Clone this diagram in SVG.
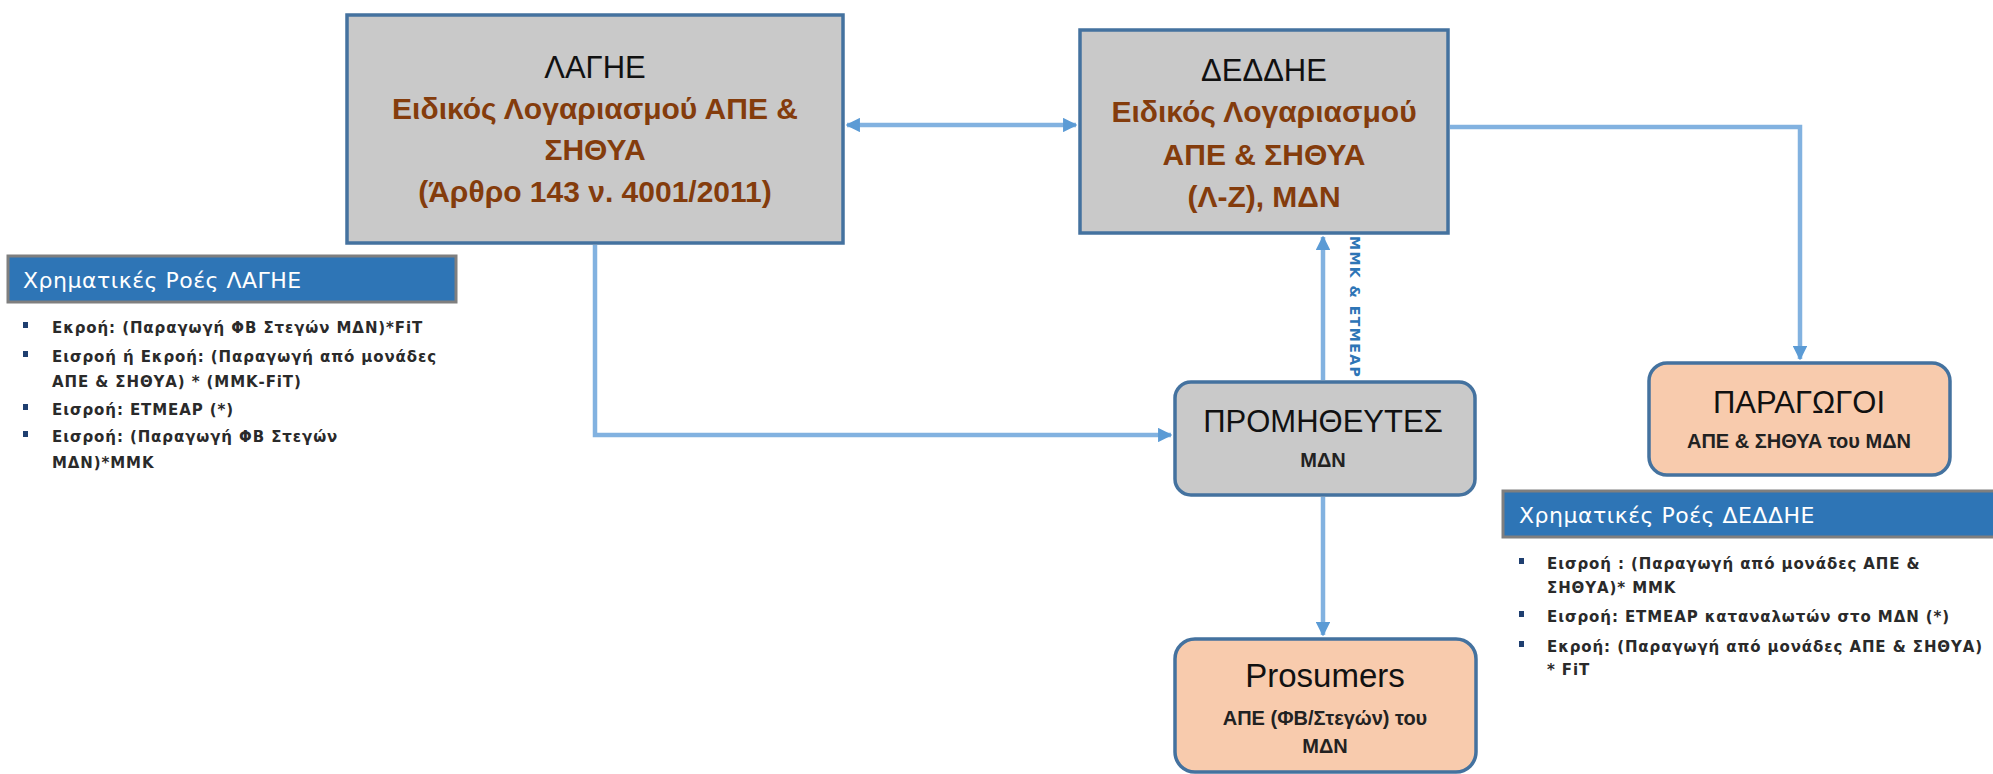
<svg xmlns="http://www.w3.org/2000/svg" width="1993" height="774" viewBox="0 0 1993 774">
<defs>
<marker id="ah" viewBox="0 0 10 10" refX="9" refY="5" markerWidth="3.2" markerHeight="3.2" orient="auto-start-reverse" markerUnits="strokeWidth">
<path d="M0,0 L10,5 L0,10 Z" fill="#5b9bd5"/>
</marker>
<style>
.box{fill:#c9c9c9;stroke:#44729f;stroke-width:3.5}
.peach{fill:#f8cbad;stroke:#44729f;stroke-width:3.5}
.conn{fill:none;stroke:#82b2e0;stroke-width:4.5}
.t{font-family:"Liberation Sans",Arial,sans-serif;text-anchor:middle}
.title{font-size:31px;fill:#111}
.sub{font-size:30px;font-weight:bold;fill:#843c0c}
.small{font-size:20px;font-weight:bold;fill:#222}
.hdr{fill:#2e75b6;stroke:#7f7f7f;stroke-width:3}
.ht{font-family:"DejaVu Sans",Verdana,sans-serif;font-size:22px;letter-spacing:0.5px;fill:#ffffff}
.lt{font-family:"DejaVu Sans",Verdana,sans-serif;font-size:15px;letter-spacing:0.9px;font-weight:bold;fill:#2a2a2a}
.bul{fill:#1f3f70}
.vl{font-family:"DejaVu Sans",Verdana,sans-serif;font-size:14px;letter-spacing:1.5px;font-weight:bold;fill:#2e75b6}
</style>
</defs>
<rect width="1993" height="774" fill="#ffffff"/>

<g id="connectors">
<line class="conn" x1="847" y1="125" x2="1076" y2="125" marker-start="url(#ah)" marker-end="url(#ah)"/>
<polyline class="conn" points="595,245 595,435 1171,435" marker-end="url(#ah)"/>
<line class="conn" x1="1323" y1="380" x2="1323" y2="237" marker-end="url(#ah)"/>
<polyline class="conn" points="1450,127 1800,127 1800,359" marker-end="url(#ah)"/>
<line class="conn" x1="1323" y1="497" x2="1323" y2="635" marker-end="url(#ah)"/>
<text class="vl" transform="translate(1350,236) rotate(90)" x="0" y="0">ΜΜΚ &amp; ΕΤΜΕΑΡ</text>
</g>

<g id="node-lagie">
<rect class="box" x="347" y="15" width="496" height="228"/>
<text class="t title" x="595" y="78">ΛΑΓΗΕ</text>
<text class="t sub" x="595" y="119">Ειδικός Λογαριασμού ΑΠΕ &amp;</text>
<text class="t sub" x="595" y="160">ΣΗΘΥΑ</text>
<text class="t sub" x="595" y="202">(Άρθρο 143 ν. 4001/2011)</text>
</g>

<g id="node-deddie">
<rect class="box" x="1080" y="30" width="368" height="203"/>
<text class="t title" x="1264" y="81">ΔΕΔΔΗΕ</text>
<text class="t sub" x="1264" y="122">Ειδικός Λογαριασμού</text>
<text class="t sub" x="1264" y="165">ΑΠΕ &amp; ΣΗΘΥΑ</text>
<text class="t sub" x="1264" y="207">(Λ-Ζ), ΜΔΝ</text>
</g>

<g id="node-promitheftes">
<rect class="box" x="1175" y="382" width="300" height="113" rx="16"/>
<text class="t title" x="1323" y="432">ΠΡΟΜΗΘΕΥΤΕΣ</text>
<text class="t small" x="1323" y="467">ΜΔΝ</text>
</g>

<g id="node-paragogoi">
<rect class="peach" x="1649" y="363" width="301" height="112" rx="18"/>
<text class="t title" x="1799" y="413">ΠΑΡΑΓΩΓΟΙ</text>
<text class="t small" x="1799" y="448">ΑΠΕ &amp; ΣΗΘΥΑ του ΜΔΝ</text>
</g>

<g id="node-prosumers">
<rect class="peach" x="1175" y="639" width="301" height="133" rx="20"/>
<text class="t title" x="1325" y="687" style="font-size:33px">Prosumers</text>
<text class="t small" x="1325" y="725">ΑΠΕ (ΦΒ/Στεγών) του</text>
<text class="t small" x="1325" y="753">ΜΔΝ</text>
</g>

<g id="legend-lagie">
<rect class="hdr" x="8" y="256" width="448" height="46"/>
<text class="ht" x="23" y="288">Χρηματικές Ροές ΛΑΓΗΕ</text>
<rect class="bul" x="23" y="322" width="5" height="6"/>
<text class="lt" x="52" y="333">Εκροή: (Παραγωγή ΦΒ Στεγών ΜΔΝ)*FiT</text>
<rect class="bul" x="23" y="351" width="5" height="6"/>
<text class="lt" x="52" y="362">Εισροή ή Εκροή: (Παραγωγή από μονάδες</text>
<text class="lt" x="52" y="387">ΑΠΕ &amp; ΣΗΘΥΑ) * (ΜΜΚ-FiT)</text>
<rect class="bul" x="23" y="404" width="5" height="6"/>
<text class="lt" x="52" y="415">Εισροή: ΕΤΜΕΑΡ (*)</text>
<rect class="bul" x="23" y="431" width="5" height="6"/>
<text class="lt" x="52" y="442">Εισροή: (Παραγωγή ΦΒ Στεγών</text>
<text class="lt" x="52" y="468">ΜΔΝ)*ΜΜΚ</text>
</g>

<g id="legend-deddie">
<rect class="hdr" x="1503" y="491" width="495" height="46"/>
<text class="ht" x="1519" y="523">Χρηματικές Ροές ΔΕΔΔΗΕ</text>
<rect class="bul" x="1519" y="558" width="5" height="6"/>
<text class="lt" x="1547" y="569">Εισροή : (Παραγωγή από μονάδες ΑΠΕ &amp;</text>
<text class="lt" x="1547" y="593">ΣΗΘΥΑ)* ΜΜΚ</text>
<rect class="bul" x="1519" y="611" width="5" height="6"/>
<text class="lt" x="1547" y="622">Εισροή: ΕΤΜΕΑΡ καταναλωτών στο ΜΔΝ (*)</text>
<rect class="bul" x="1519" y="641" width="5" height="6"/>
<text class="lt" x="1547" y="652">Εκροή: (Παραγωγή από μονάδες ΑΠΕ &amp; ΣΗΘΥΑ)</text>
<text class="lt" x="1547" y="675">* FiT</text>
</g>
</svg>
